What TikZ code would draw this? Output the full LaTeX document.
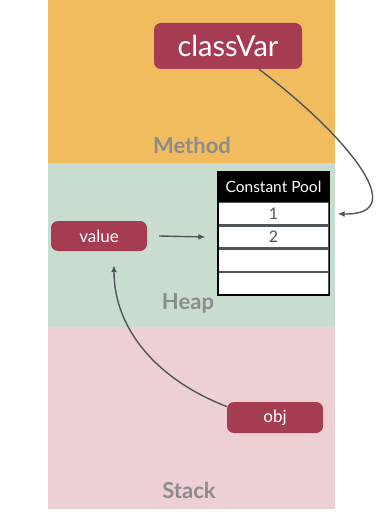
\documentclass[tikz,border=0pt]{standalone}
\usepackage{fontspec}
\setmainfont{Lato}
\usetikzlibrary{positioning,arrows.meta}
\definecolor{methodbg}{RGB}{240, 188, 94}
\definecolor{heapbg}{RGB}{200, 220, 208}
\definecolor{stackbg}{RGB}{237, 208, 211}
\definecolor{varred}{RGB}{165, 60, 82}
\definecolor{areagray}{RGB}{140, 140, 140}
\definecolor{linegray}{RGB}{80, 85, 92}

\tikzset{
  var/.style={rounded corners=7pt,fill=varred,text=white,inner sep=0pt},
  area/.style={font=\fontsize{22}{22}\selectfont\bfseries,text=areagray},
  slot/.style={draw=linegray,line width=1.2pt,fill=white,minimum width=111pt,minimum height=22pt,
    inner sep=0pt,font=\fontsize{16}{16}\selectfont,text=linegray},
  conn/.style={draw=linegray,line width=1.4pt,-{Latex[length=7pt,width=6pt]}}
}

\begin{document}
\begin{tikzpicture}[x=1pt,y=-1pt,font=\fontsize{17}{17}\selectfont]
  \useasboundingbox (0,0) rectangle (383,529);
  % memory areas
  \fill[methodbg] (48,0) rectangle (335,163);
  \fill[heapbg] (48,163) rectangle (335,327);
  \fill[stackbg] (48,327) rectangle (335,509);
  \node[area] (method) at (192,145) {Method};
  \node[area] (heap) at (188,303) {Heap};
  \node[area] (stack) at (189,490) {Stack};

  % variables
  \node[var,minimum width=148pt,minimum height=46pt,font=\fontsize{29}{29}\selectfont] (classvar) at (228,46) {classVar};
  \node[var,minimum width=96pt,minimum height=30pt] (value) at (99,236) {value};
  \node[var,minimum width=96pt,minimum height=31pt] (obj) at (275,417.5) {obj};

  % constant pool
  \node[fill=black,text=white,minimum width=111pt,minimum height=30pt,inner sep=0pt,
    font=\fontsize{15.5}{15.5}\selectfont] (pool) at (273.5,187) {Constant Pool};
  \node[slot,below=0pt of pool] (row1) {1};
  \node[slot,below=0pt of row1] (row2) {2};
  \node[slot,below=0pt of row2] (row3) {};
  \node[slot,below=0pt of row3] (row4) {};
  \draw[black,line width=1.6pt] (pool.north west) rectangle (row4.south east);

  \draw[conn] ([xshift=12pt]value.east) -- ([xshift=-12pt]row2.west);
  \draw[conn] ([xshift=31pt]classvar.south) .. controls +(81,61) and +(78,2) .. ([xshift=8pt]row1.east);
  \draw[conn] ([yshift=11pt]obj.west) .. controls +(-68,-26) and +(0,65) .. ([xshift=15pt,yshift=-14pt]value.south);
\end{tikzpicture}
\end{document}
